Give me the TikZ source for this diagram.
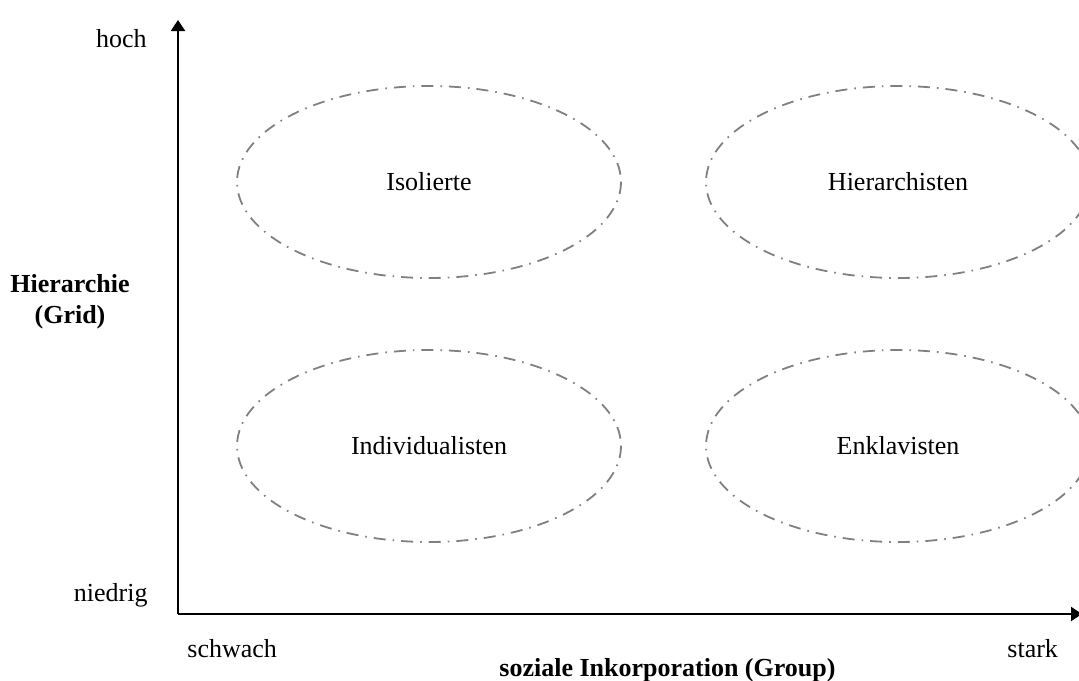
\documentclass[tikz,border=0pt]{standalone}
\usepackage{fontspec}
\setmainfont{Liberation Serif}
\usetikzlibrary{arrows.meta}

\tikzset{
  axis/.style={-{Triangle[length=5.5pt,width=7pt]}, line width=1pt, black},
  group/.style={draw=gray, line width=0.9pt, dash pattern=on 6pt off 3.5pt on 0.8pt off 3.5pt},
  txt/.style={font=\fontsize{13}{15.5}\selectfont, inner sep=0pt},
  bold/.style={txt, font=\fontsize{13}{15.5}\selectfont\bfseries}
}

\begin{document}
\begin{tikzpicture}[x=0.5pt, y=-0.5pt]
        \useasboundingbox (0,0) rectangle (1079,680);

        % axes
        \coordinate (origin) at (178,614);
        \coordinate (ytop) at (178,20);
        \coordinate (xend) at (1082,614);
        \draw[axis](origin)--(ytop);
        \draw[axis](origin)--(xend);

        % the four groups
        \draw[group](429,182)ellipse[x radius=192, y radius=96];
        \draw[group](898,182)ellipse[x radius=192, y radius=96];
        \draw[group](429,446)ellipse[x radius=192, y radius=96];
        \draw[group](898,446)ellipse[x radius=192, y radius=96];

        \node[txt] (iso) at (429,182) {Isolierte};
        \node[txt] (hie) at (898,182) {Hierarchisten};
        \node[txt] (ind) at (429,446) {Individualisten};
        \node[txt] (enk) at (898,446) {Enklavisten};

        % axis labels
        \node[txt, anchor=base east] (hoch) at (147,47) {hoch};
        \node[txt, anchor=base east] (niedrig) at (148,601) {niedrig};
        \node[bold, anchor=base] (grid1) at (70,292) {Hierarchie};
        \node[bold, anchor=base] (grid2) at (70,323) {(Grid)};

        \node[txt, anchor=base west] (schwach) at (187,657) {schwach};
        \node[txt, anchor=base west] (stark) at (1007,657) {stark};
        \node[bold, anchor=base west] (group) at (499,676) {soziale Inkorporation (Group)};
    \end{tikzpicture}
\end{document}
